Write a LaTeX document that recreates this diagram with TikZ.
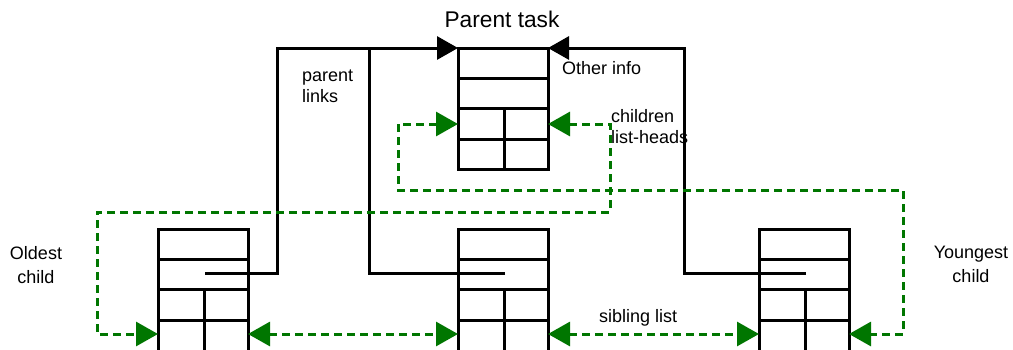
\documentclass[tikz,border=0pt]{standalone}
\usepackage{fontspec}
\setmainfont{Liberation Sans}
\usetikzlibrary{arrows.meta,calc}
\definecolor{lgreen}{RGB}{0,118,0}
\tikzset{
  taskbox/.style={draw=black,line width=3pt,minimum width=90pt,minimum height=123pt,inner sep=0pt,outer sep=0pt},
  rowline/.style={draw=black,line width=3pt},
  plink/.style={draw=black,line width=3pt},
  blacktip/.style={-{Triangle[length=21pt,width=23pt]}},
  glink/.style={draw=lgreen,line width=3pt,dash pattern=on 8pt off 5pt,{Triangle[length=22pt,width=24pt]}-{Triangle[length=22pt,width=24pt]}},
  lbl/.style={font=\fontsize{18}{21.5}\selectfont,inner sep=0pt,align=left},
  clbl/.style={font=\fontsize{18}{24}\selectfont,inner sep=0pt,align=center},
}
\begin{document}
\begin{tikzpicture}[x=1pt,y=-1pt]
\clip (0,0) rectangle (1013,349);
\fill[white] (0,0) rectangle (1013,349);
% task boxes
\node[taskbox,anchor=north west,minimum height=121pt] (p) at (458,48) {};
\node[taskbox,anchor=north west] (c1) at (158,229) {};
\node[taskbox,anchor=north west] (c2) at (458,229) {};
\node[taskbox,anchor=north west] (c3) at (759,229) {};
\foreach \b in {p,c1,c2,c3}{
  \draw[rowline] ($(\b.north west)+(0,30)$) -- ($(\b.north east)+(0,30)$);
  \draw[rowline] ($(\b.north west)+(0,60)$) -- ($(\b.north east)+(0,60)$);
  \draw[rowline] ($(\b.north west)+(0,91)$) -- ($(\b.north east)+(0,91)$);
  \draw[rowline] ($(\b.north)+(1,60)$) -- ($(\b.south)+(1,0)$);
  \coordinate (\b-hl) at ($(\b.north west)+(0,76)$);
  \coordinate (\b-hr) at ($(\b.north east)+(0,76)$);
  \coordinate (\b-sl) at ($(\b.north west)+(0,105)$);
  \coordinate (\b-sr) at ($(\b.north east)+(0,105)$);
  \coordinate (\b-ptr) at ($(\b.north)+(2,44)$);
}
% parent links
\coordinate (k1) at (277,48);
\coordinate (k2) at (369,48);
\coordinate (k3) at (684,48);
\draw[plink,blacktip] (c1-ptr) -| (k1) -- (p.north west);
\draw[plink] (c2-ptr) -| (k2);
\draw[plink,blacktip] (c3-ptr) -| (k3) -- (p.north east);
% children list heads and sibling list
\draw[glink] (p-hl) -- (398,124) -- (398,190) -- (903,190) -- (903,334) -- (c3-sr);
\draw[glink] (p-hr) -- (610,124) -- (610,212) -- (97,212) -- (97,334) -- (c1-sl);
\draw[glink] (c1-sr) -- (c2-sl);
\draw[glink] (c2-sr) -- (c3-sl);
% labels
\node[font=\fontsize{22.7}{26}\selectfont,inner sep=0pt,anchor=base] (title) at (502,27) {Parent task};
\node[lbl,anchor=base west] (oi) at (562,74) {Other info};
\node[lbl,anchor=north west] (pl) at (302,69.5) {parent\\links};
\node[lbl,anchor=north west] (ch) at (611,108.8) {children\\list-heads};
\node[clbl,anchor=north] (old) at (36,245.8) {Oldest\\child};
\node[clbl,anchor=north] (yng) at (971,246.1) {Youngest\\child};
\node[lbl,anchor=base west] (sib) at (599,322) {sibling list};
\end{tikzpicture}
\end{document}
